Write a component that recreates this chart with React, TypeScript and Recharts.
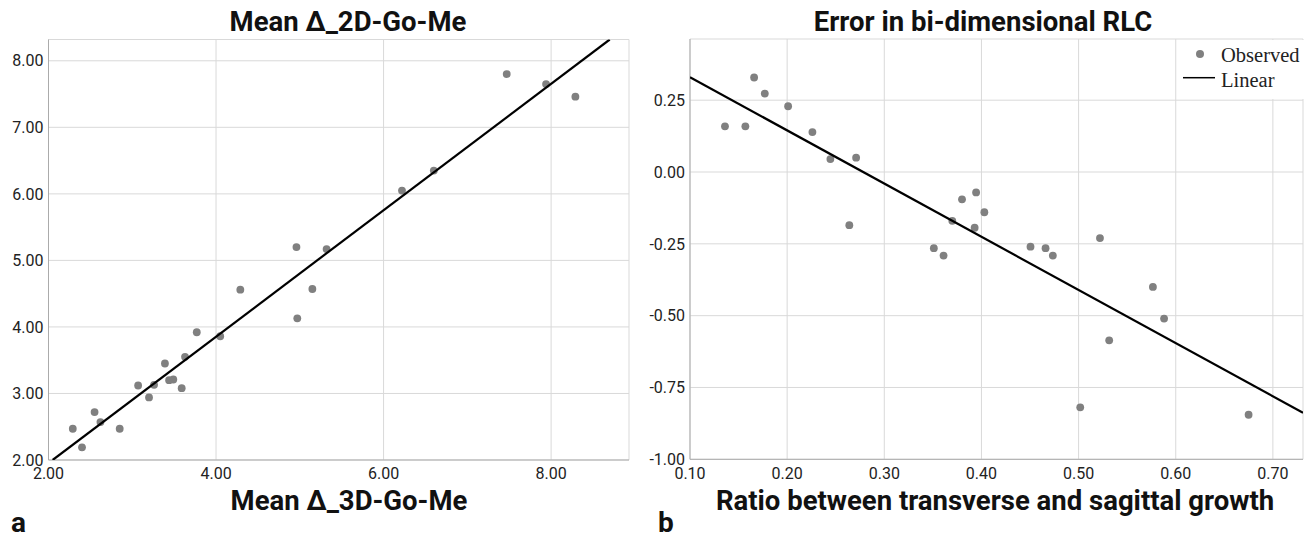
import { ScatterChart, Scatter, XAxis, YAxis, CartesianGrid } from "recharts";

// panel a: mean change of Go-Me, 3D vs 2D
const goMe3D = [2.29, 2.40, 2.55, 2.62, 2.85, 3.07, 3.20, 3.26, 3.39, 3.44, 3.49, 3.59, 3.63, 3.77, 4.05, 4.29, 4.96, 4.97, 5.15, 5.32, 6.22, 6.60, 7.47, 7.94, 8.29];
const goMe2D = [2.47, 2.19, 2.72, 2.57, 2.47, 3.12, 2.94, 3.13, 3.45, 3.20, 3.21, 3.08, 3.55, 3.92, 3.86, 4.56, 5.20, 4.13, 4.57, 5.17, 6.05, 6.35, 7.80, 7.65, 7.46];
const goMeFitX = [2.05, 8.70];
const goMeFitY = [2.0, 8.32];
const goMeTicksX = [2, 4, 6, 8];
const goMeTicksY = [2, 3, 4, 5, 6, 7, 8];

// panel b: ratio transverse/sagittal vs RLC error
const growthRatio = [0.136, 0.157, 0.166, 0.177, 0.201, 0.226, 0.2445, 0.271, 0.264, 0.351, 0.361, 0.370, 0.380, 0.3945, 0.393, 0.403, 0.4505, 0.466, 0.4735, 0.522, 0.5315, 0.5017, 0.5765, 0.588, 0.675];
const rlcError = [0.159, 0.159, 0.329, 0.273, 0.229, 0.139, 0.045, 0.050, -0.185, -0.265, -0.291, -0.170, -0.095, -0.071, -0.194, -0.140, -0.260, -0.265, -0.291, -0.230, -0.586, -0.819, -0.400, -0.510, -0.845];
const rlcFitX = [0.10, 0.731];
const rlcFitY = [0.330, -0.838];
const ratioTicks = [0.1, 0.2, 0.3, 0.4, 0.5, 0.6, 0.7];
const errorTicks = [-1, -0.75, -0.5, -0.25, 0, 0.25];

const toPoints = (xs: number[], ys: number[]) => xs.map((x, i) => ({ x, y: ys[i] }));

const goMeData = toPoints(goMe3D, goMe2D);
const goMeFit = toPoints(goMeFitX, goMeFitY);
const rlcData = toPoints(growthRatio, rlcError);
const rlcFit = toPoints(rlcFitX, rlcFitY);

const DOT = "#808080";
const GRID = "#d9d9d9";
const AXIS = "#ababab";
const tickStyle = { fontFamily: "Roboto", fontSize: 16, fill: "#222" };
const fmt = (v: number) => v.toFixed(2);

const Dot = (props: any) => <circle cx={props.cx} cy={props.cy} r={3.9} fill={DOT} />;
const NoDot = () => <g />;

const heading: React.CSSProperties = {
  position: "absolute",
  fontFamily: "Roboto",
  fontWeight: 700,
  fontSize: 27.5,
  lineHeight: "27.5px",
  color: "#111",
  whiteSpace: "nowrap",
  transform: "translateX(-50%)",
};

const panelLetter: React.CSSProperties = {
  position: "absolute",
  fontFamily: "Roboto",
  fontWeight: 700,
  fontSize: 28,
  lineHeight: "28px",
  color: "#111",
};

const legendText: React.CSSProperties = {
  position: "absolute",
  left: 41,
  fontFamily: "Liberation Serif",
  fontSize: 20.5,
  lineHeight: "20px",
  color: "#222",
};

export default function App() {
  return (
    <div style={{ position: "absolute", left: 0, top: 0, width: 1315, height: 541, background: "#fff" }}>
      <div style={{ position: "absolute", left: 0, top: 0 }}>
        <ScatterChart width={660} height={541} margin={{ top: 39.5, right: 31, bottom: 51, left: 0 }}>
          <CartesianGrid stroke={GRID} />
          <XAxis
            type="number"
            dataKey="x"
            domain={[2, 8.93]}
            ticks={goMeTicksX}
            allowDataOverflow
            tickFormatter={fmt}
            tickLine={false}
            tickSize={0}
            tickMargin={8}
            height={30}
            stroke={AXIS}
            tick={tickStyle}
          />
          <YAxis
            type="number"
            dataKey="y"
            domain={[2, 8.32]}
            ticks={goMeTicksY}
            allowDataOverflow
            tickFormatter={fmt}
            tickLine={false}
            tickSize={0}
            tickMargin={5}
            width={48.5}
            stroke={AXIS}
            tick={tickStyle}
          />
          <Scatter name="Observed" data={goMeData} shape={Dot} isAnimationActive={false} />
          <Scatter name="Linear" data={goMeFit} shape={NoDot} line={{ stroke: "#000", strokeWidth: 2.2 }} isAnimationActive={false} />
        </ScatterChart>
      </div>

      <div style={{ position: "absolute", left: 640, top: 0 }}>
        <ScatterChart width={675} height={541} margin={{ top: 39, right: 12, bottom: 51.7, left: 0 }}>
          <CartesianGrid stroke={GRID} />
          <XAxis
            type="number"
            dataKey="x"
            domain={[0.1, 0.731]}
            ticks={ratioTicks}
            allowDataOverflow
            tickFormatter={fmt}
            tickLine={false}
            tickSize={0}
            tickMargin={8}
            height={30}
            stroke={AXIS}
            tick={tickStyle}
          />
          <YAxis
            type="number"
            dataKey="y"
            domain={[-1, 0.463]}
            ticks={errorTicks}
            allowDataOverflow
            tickFormatter={fmt}
            tickLine={false}
            tickSize={0}
            tickMargin={5}
            width={50}
            stroke={AXIS}
            tick={tickStyle}
          />
          <Scatter name="Observed" data={rlcData} shape={Dot} isAnimationActive={false} />
          <Scatter name="Linear" data={rlcFit} shape={NoDot} line={{ stroke: "#000", strokeWidth: 2.2 }} isAnimationActive={false} />
        </ScatterChart>
      </div>

      {/* legend of panel b */}
      <div style={{ position: "absolute", left: 1180, top: 40, width: 125, height: 59, background: "#fff" }}>
        <svg width={40} height={59} style={{ position: "absolute", left: 0, top: 0 }}>
          <circle cx={20} cy={14} r={4} fill={DOT} />
          <line x1={3} x2={35} y1={37.7} y2={37.7} stroke="#000" strokeWidth={1.5} />
        </svg>
        <div style={{ ...legendText, top: 5 }}>Observed</div>
        <div style={{ ...legendText, top: 30 }}>Linear</div>
      </div>

      <div style={{ ...heading, left: 348, top: 8 }}>Mean Δ_2D-Go-Me</div>
      <div style={{ ...heading, left: 349, top: 487 }}>Mean Δ_3D-Go-Me</div>
      <div style={{ ...heading, left: 983, top: 8 }}>Error in bi-dimensional RLC</div>
      <div style={{ ...heading, left: 995, top: 487 }}>Ratio between transverse and sagittal growth</div>

      <div style={{ ...panelLetter, left: 11, top: 509 }}>a</div>
      <div style={{ ...panelLetter, left: 658, top: 509 }}>b</div>
    </div>
  );
}
